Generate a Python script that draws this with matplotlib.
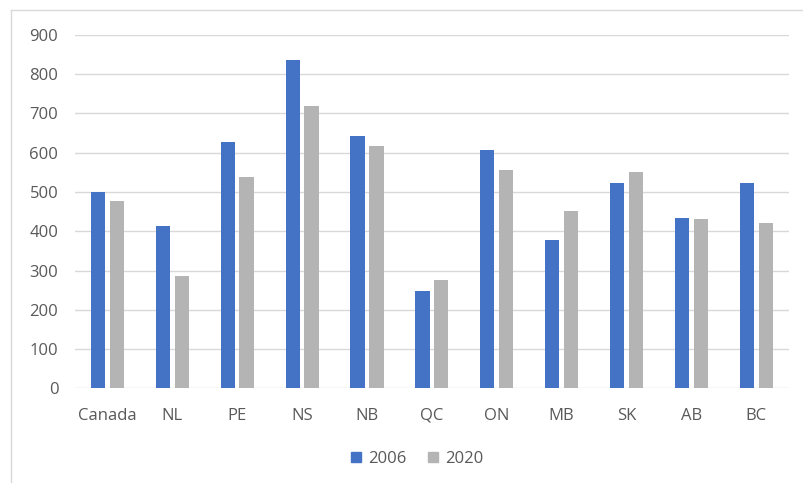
import matplotlib
matplotlib.use("Agg")
import matplotlib.pyplot as plt
from matplotlib.lines import Line2D
import numpy as np

# 資料 (從圖上讀出來的數值)
provinces = ["Canada", "NL", "PE", "NS", "NB", "QC", "ON", "MB", "SK", "AB", "BC"]
values_2006 = [500, 413, 626, 835, 642, 249, 606, 379, 522, 434, 522]
values_2020 = [476, 286, 537, 720, 617, 275, 555, 452, 550, 430, 420]
series_names = ["2006", "2020"]
colors = ["#4472C4", "#B4B4B4"]

plt.rcParams["font.family"] = ["Open Sans", "DejaVu Sans"]

fig = plt.figure(figsize=(8.04, 4.83), dpi=100)
ax = fig.add_axes([0.0933, 0.1957, 0.8877, 0.7323])

x = np.arange(len(provinces))
width = 0.22
offset = 0.145
ax.bar(x - offset, values_2006, width, color=colors[0], label=series_names[0], zorder=3)
ax.bar(x + offset, values_2020, width, color=colors[1], label=series_names[1], zorder=3)

ax.set_xlim(-0.5, len(provinces) - 0.5)
ax.set_ylim(0, 900)
ax.set_yticks(range(0, 901, 100))
ax.set_xticks(x)
ax.set_xticklabels(provinces)

# 格線 (淺灰)
ax.grid(axis="y", color="#D9D9D9", linewidth=1.0, zorder=0)
for s in ax.spines.values():
    s.set_visible(False)
ax.tick_params(axis="both", length=0, labelsize=12, labelcolor="#595959")
ax.tick_params(axis="y", pad=12)
ax.tick_params(axis="x", pad=14)

# 圖例
handles = [Line2D([0], [0], marker="s", linestyle="none", markersize=7.5,
                  markerfacecolor=c, markeredgecolor=c) for c in colors]
fig.legend(handles, series_names, loc="center", bbox_to_anchor=(0.518, 0.05),
           ncol=2, frameon=False, fontsize=12, labelcolor="#595959",
           handlelength=0.8, handletextpad=0.3, columnspacing=1.2)

# 外框 (只看得到上面跟左邊)
fig.add_artist(Line2D([11 / 804, 1], [1 - 10 / 483, 1 - 10 / 483],
                      transform=fig.transFigure, color="#D9D9D9", linewidth=1))
fig.add_artist(Line2D([11 / 804, 11 / 804], [0, 1 - 10 / 483],
                      transform=fig.transFigure, color="#D9D9D9", linewidth=1))

fig.savefig("out.png", dpi=100)
plt.close(fig)
